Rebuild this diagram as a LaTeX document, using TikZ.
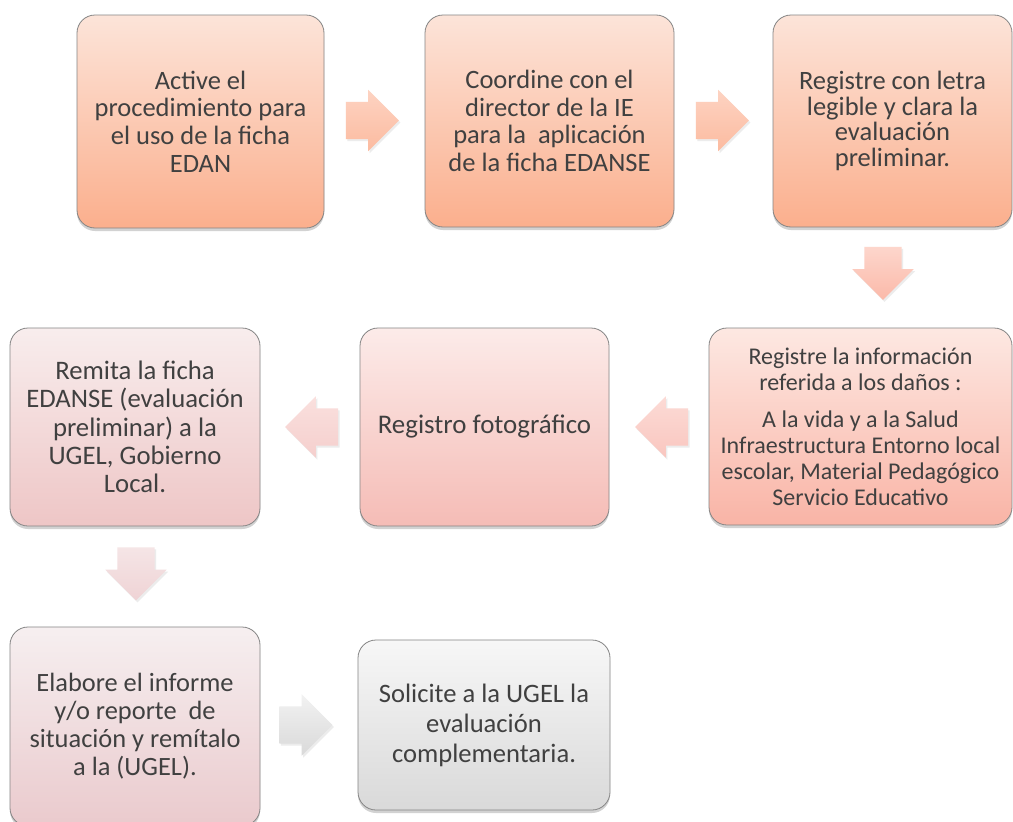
\documentclass[tikz,border=0pt]{standalone}
\usepackage{fontspec}
\setmainfont{Carlito}
\usetikzlibrary{shapes.arrows, shadows}
\definecolor{ink}{HTML}{404040}
\definecolor{rim}{HTML}{858585}
\definecolor{peachtop}{HTML}{FCE4D9}
\definecolor{peachbot}{HTML}{FBAF8D}
\definecolor{salmontop}{HTML}{FDE8E2}
\definecolor{salmonbot}{HTML}{F9B4A6}
\definecolor{rosetop}{HTML}{FCEBE9}
\definecolor{rosebot}{HTML}{F5BCB6}
\definecolor{blushtop}{HTML}{F8EDED}
\definecolor{blushbot}{HTML}{EEC6C6}
\definecolor{mauvetop}{HTML}{F6EFF0}
\definecolor{mauvebot}{HTML}{EACACD}
\definecolor{greytop}{HTML}{F7F7F7}
\definecolor{greybot}{HTML}{D9D9D9}
\definecolor{arrpeachtop}{HTML}{FDD3C2}
\definecolor{arrpeachbot}{HTML}{FCBBA0}
\definecolor{arrsalmontop}{HTML}{FDD6CC}
\definecolor{arrsalmonbot}{HTML}{FBB9A9}
\definecolor{arrrosetop}{HTML}{FCDBD6}
\definecolor{arrrosebot}{HTML}{F9C6BF}
\definecolor{arrblushtop}{HTML}{FAE0DE}
\definecolor{arrblushbot}{HTML}{F5CFCD}
\definecolor{arrmauvetop}{HTML}{F5E5E6}
\definecolor{arrmauvebot}{HTML}{EFD3D5}
\definecolor{arrgreytop}{HTML}{F2F2F2}
\definecolor{arrgreybot}{HTML}{D9D9D9}
\newcommand{\cardfont}[2]{\fontsize{#1}{#2}\selectfont}
\tikzset{
  every picture/.style = {line join=round},
  card/.style          = {draw=rim, line width=0.8pt, rounded corners=18pt, text=ink,
                          align=center, inner sep=0pt,
                          drop shadow={opacity=0.35, shadow xshift=0pt, shadow yshift=-3pt}},
  flowarrow/.style     = {single arrow, draw=none, inner xsep=0pt, inner ysep=18.5pt,
                          minimum height=53pt, minimum width=61pt, single arrow head extend=12pt,
                          drop shadow={opacity=0.15, shadow xshift=1.5pt, shadow yshift=-2pt}},
  downarrow/.style     = {flowarrow, shape border rotate=270, inner xsep=18.5pt, inner ysep=0pt},
  leftarrow/.style     = {flowarrow, shape border rotate=180},
}

\begin{document}
\begin{tikzpicture}[x=1pt, y=-1pt]
  \useasboundingbox[fill=white] (0,0) rectangle (1013,822);

  % first row, left to right
  \node[card, top color=peachtop, bottom color=peachbot,
        minimum width=247pt, minimum height=213pt, font=\cardfont{26.5}{27.7}] (act) at (200.5,121.5)
        {Active el\\procedimiento para\\el uso de la ficha\\EDAN};
  \node[card, top color=peachtop, bottom color=peachbot,
        minimum width=249pt, minimum height=212pt, font=\cardfont{26.5}{27.7}] (coord) at (549.5,121)
        {Coordine con el\\director de la IE\\para la~ aplicación\\de la ficha EDANSE};
  \node[card, top color=peachtop, bottom color=peachbot,
        minimum width=239pt, minimum height=212pt, font=\cardfont{26.5}{25.7}] (letra) at (892.5,121)
        {Registre con letra\\legible y clara la\\evaluación\\preliminar.};

  % second row, right to left
  \node[card, top color=salmontop, bottom color=salmonbot,
        minimum width=303pt, minimum height=197pt, font=\cardfont{24}{26}] (danos) at (860.5,426.5)
        {Registre la información\\referida a los daños :\\[11pt]
         A la vida y a la Salud\\Infraestructura Entorno local\\escolar, Material Pedagógico\\Servicio Educativo};
  \node[card, top color=rosetop, bottom color=rosebot,
        minimum width=249pt, minimum height=198pt, font=\cardfont{26.9}{29}] (foto) at (484.5,427)
        {Registro fotográfico};
  \node[card, top color=blushtop, bottom color=blushbot,
        minimum width=250pt, minimum height=198pt, font=\cardfont{26.7}{28.3}] (remita) at (135,427)
        {Remita la ficha\\EDANSE (evaluación\\preliminar) a la\\UGEL, Gobierno\\Local.};

  % third row: runs off the bottom edge on the left
  \node[card, top color=mauvetop, bottom color=mauvebot,
        minimum width=250pt, minimum height=199pt, font=\cardfont{26.4}{28}] (informe) at (135,726.5)
        {Elabore el informe\\y/o reporte~ de\\situación y remítalo\\a la (UGEL).};
  \node[card, top color=greytop, bottom color=greybot,
        minimum width=252pt, minimum height=170pt, font=\cardfont{26.6}{30}] (solicite) at (484,725)
        {Solicite a la UGEL la\\evaluación\\complementaria.};

  % block arrows between the cards (the shape sits ahead of its centre, so set back a little)
  \node[flowarrow, top color=arrpeachtop, bottom color=arrpeachbot] (a1) at (363,120.5) {};
  \node[flowarrow, top color=arrpeachtop, bottom color=arrpeachbot] (a2) at (713,120.5) {};
  \node[downarrow, top color=arrsalmontop, bottom color=arrsalmonbot] (a3) at (883,264) {};
  \node[leftarrow, top color=arrrosetop, bottom color=arrrosebot] (a4) at (671,427) {};
  \node[leftarrow, top color=arrblushtop, bottom color=arrblushbot] (a5) at (321,427) {};
  \node[downarrow, top color=arrmauvetop, bottom color=arrmauvebot] (a6) at (136,564.5) {};
  \node[flowarrow, top color=arrgreytop, bottom color=arrgreybot] (a7) at (296.5,725) {};
\end{tikzpicture}
\end{document}
